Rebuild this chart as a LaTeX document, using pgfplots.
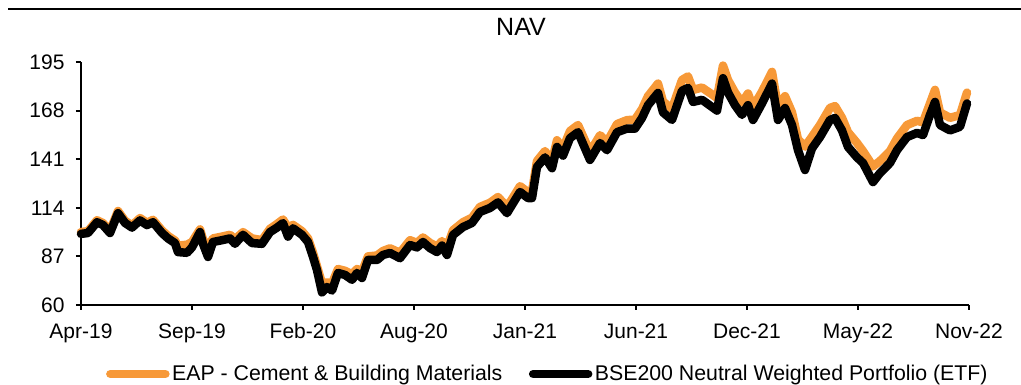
\documentclass[border=0pt]{standalone}
\usepackage{fontspec}
\setmainfont{Liberation Sans}
\usepackage{pgfplots}
\pgfplotsset{compat=1.18}
\definecolor{eaporange}{RGB}{247,153,56}
\pgfplotstableread{
x b o
0 99.5 100.5
7 100 101
16 106 107.1
22 104.4 105.5
29 100 101.1
37 111 112.2
44 105.6 106.8
51 103 104.2
59 107 108.3
66 104.4 105.7
72 106 107.3
81 100 101.4
87 97 98.4
94 94.4 95.8
97 89.4 93
106 89 93.5
111 92 95
119 100.5 102
122 94 96.5
127 86.7 92
132 95 97
141 96 98
149 97 99
154 94 96.5
162 99 100.5
171 94.4 97
181 94 96
189 100.5 102.3
196 103 105
202 105.5 107.5
207 98 103
212 102.6 104.5
221 99 101
227 95 97
232 86.7 89
236 79.4 81.5
241 67 72
246 70 72.5
251 68 72
257 77.8 80
264 76.7 79
271 74 77
276 77.8 80
281 75 78.5
287 85 87
296 85 87.5
302 87.8 90
309 88.9 91.5
319 86 89
329 93.3 96
336 92 94.5
342 95 97.5
349 91.6 94.5
356 89.4 92.5
361 93 95.5
366 87.8 92
372 98.9 101.5
382 103.3 106
391 105.6 108.5
399 111.7 114.5
409 113.9 116.8
417 117 120
426 111 114.5
431 115.6 118.8
439 122.8 126
447 119.4 122.7
451 119.4 123
456 136.7 140
464 142 145.5
471 136 139.8
476 147.8 151.5
482 143 147
489 152.7 156.6
497 156 160
509 140.6 145
519 150 154.3
526 146 150.5
536 156 160.5
546 158 162.7
554 158 163
561 163.9 168.8
567 171 176
577 177.8 183
582 167 173
591 162.8 169
601 179 185
607 180.6 187
612 172.8 179.5
621 174 180.8
631 170 177
636 168 175
642 186 193
647 178 185
654 171 178
661 165.6 172.5
667 171 177.5
672 162.8 170
681 172 178.5
691 183 189.5
697 162.8 170
704 169.4 176
711 160 167
717 146 152
724 135 148
731 147 153.5
739 153.3 160
749 162.8 169.5
754 163.9 170.5
761 157 164
767 147.8 156
776 142 150
782 138.9 145.5
792 128.3 137
799 133.3 140
809 138.9 145.5
816 146 152.5
826 153.3 160
836 155.6 162.3
842 154.4 161.5
849 165.6 172
854 172.8 179.5
859 160 167
869 157 164
879 159 165.5
886 172 178
}\navdata
\begin{document}
\begin{tikzpicture}
\path[use as bounding box] (0pt,0pt) rectangle (1021pt,385pt);
\draw[line width=2.5pt] (8pt,376pt) -- (1021pt,376pt);
\begin{axis}[
  at={(81pt,80pt)}, anchor=south west,
  scale only axis, width=888pt, height=243pt,
  xmin=0, xmax=888, ymin=60, ymax=195,
  axis x line*=bottom, axis y line*=left,
  axis line style={line width=2.2pt},
  xtick={0,111,222,333,444,555,666,777,888},
  xticklabels={Apr-19,Sep-19,Feb-20,Aug-20,Jan-21,Jun-21,Dec-21,May-22,Nov-22},
  ytick={60,87,114,141,168,195},
  tick align=outside, major tick length=5pt,
  tick style={line width=2pt, black},
  /pgf/number format/assume math mode=true,
  tick label style={font=\fontsize{21}{25}\selectfont},
  xticklabel style={yshift=-10pt},
  yticklabel style={xshift=-8pt},
  title={NAV},
  title style={at={(0.4955,1.12)}, anchor=center, font=\fontsize{25}{30}\selectfont},
  legend columns=2,
  legend style={at={(0.526,-0.284)}, anchor=center, draw=none,
    font=\fontsize{21.3}{25}\selectfont,
    nodes={inner sep=2.5pt},
    /tikz/every even column/.append style={column sep=24pt}},
  legend image code/.code={\draw[#1, line cap=round] (0pt,0pt) -- (55pt,0pt);},
  clip=false,
]
\addplot[color=eaporange, line width=8.5pt, line join=round, line cap=round] table[x=x, y=o] {\navdata};
\addlegendentry{EAP - Cement \& Building Materials}
\addplot[color=black, line width=8.5pt, line join=round, line cap=round] table[x=x, y=b] {\navdata};
\addlegendentry{BSE200 Neutral Weighted Portfolio (ETF)}
\end{axis}
\end{tikzpicture}
\end{document}
